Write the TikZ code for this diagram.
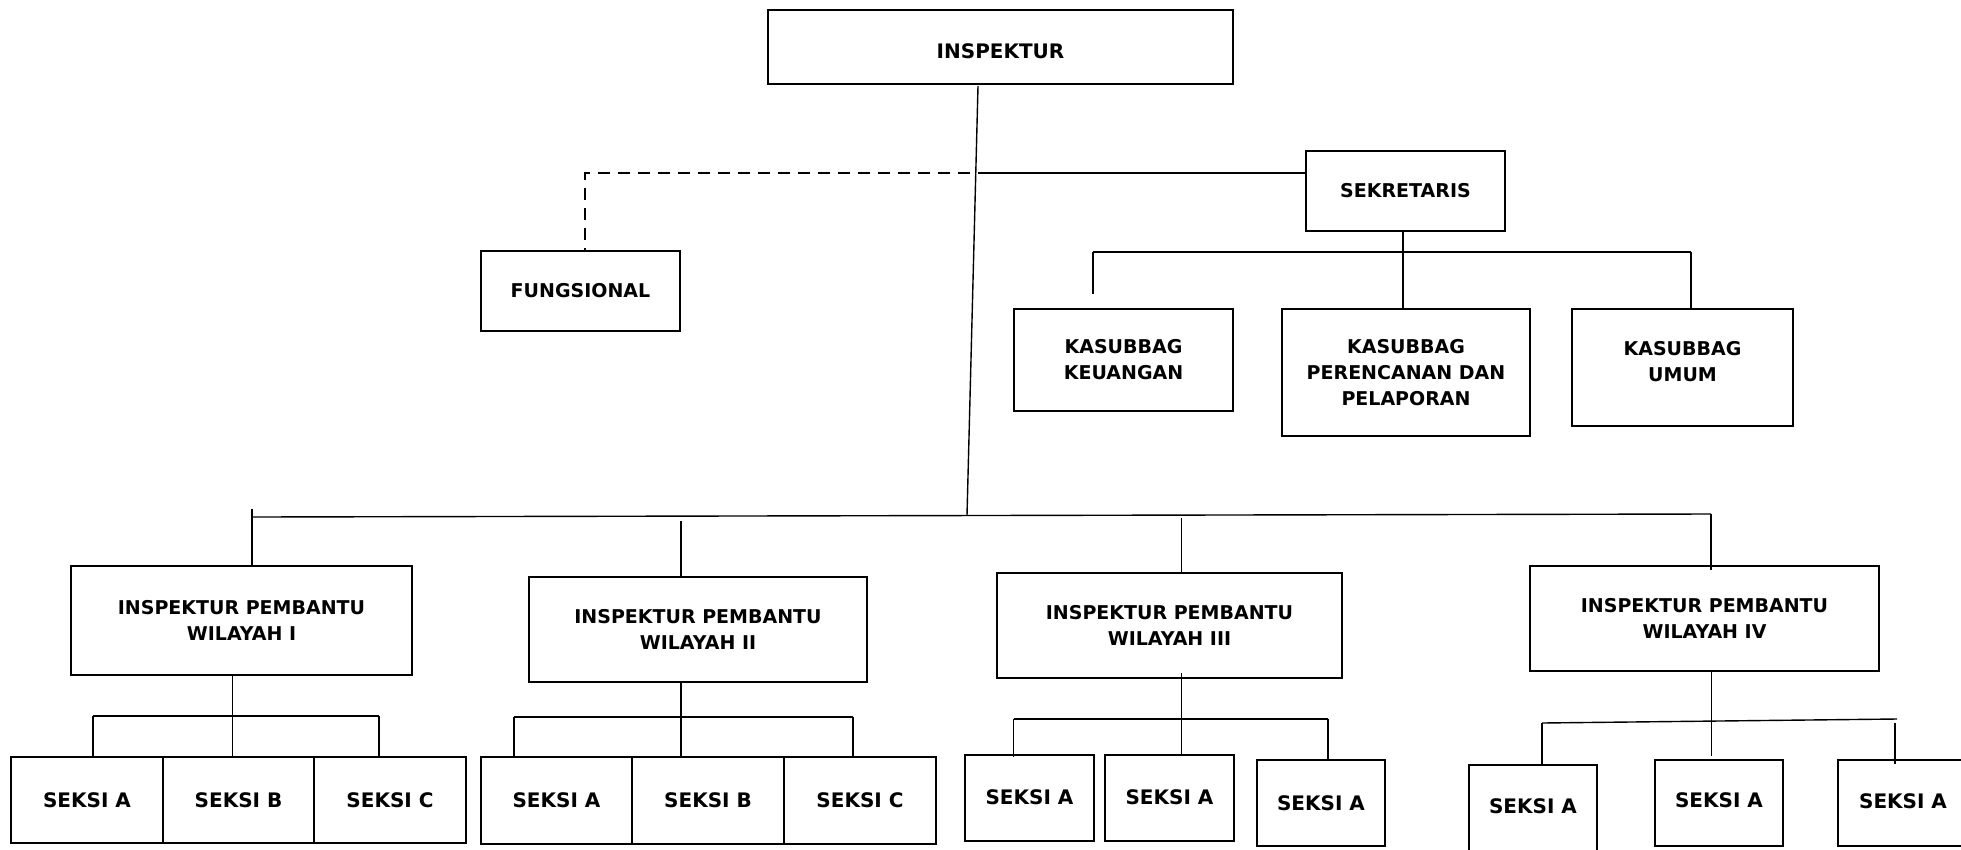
\documentclass[tikz,border=0pt]{standalone}
\usepackage{fontspec}
\setmainfont{DejaVu Sans}
\begin{document}
\begin{tikzpicture}[x=1pt,y=-1pt,
  box/.style={draw, line width=1.6pt, rectangle, inner sep=0pt, align=center,
    font=\bfseries\fontsize{19}{26}\selectfont},
  lbl/.style={inner sep=0pt, align=center, font=\bfseries\fontsize{20}{26}\selectfont},
  sbox/.style={box, font=\bfseries\fontsize{20}{26}\selectfont},
  ln/.style={line width=1.4pt},
  dsh/.style={line width=1.6pt, dash pattern=on 12pt off 8pt}]
\useasboundingbox (0,0) rectangle (1961,849);
\fill[white] (0,0) rectangle (1961,849);
\clip (0,0) rectangle (1961,849);

% top level
\node[box, minimum width=465pt, minimum height=74pt] (insp) at (1000.5,47) {};
\node[lbl] (inspt) at (1000.5,51) {INSPEKTUR};
\node[box, minimum width=199pt, minimum height=80pt] (sek) at (1405.5,191) {SEKRETARIS};
\node[box, minimum width=199pt, minimum height=80pt] (fung) at (580.5,291) {FUNGSIONAL};
\node[box, minimum width=219pt, minimum height=102pt] (keu) at (1123.5,360) {KASUBBAG\\KEUANGAN};
\node[box, minimum width=248pt, minimum height=127pt] (ren) at (1406,372.5) {KASUBBAG\\PERENCANAN DAN\\PELAPORAN};
\node[box, minimum width=221pt, minimum height=117pt] (umum) at (1682.5,367.5) {};
\node[lbl, font=\bfseries\fontsize{19}{26}\selectfont] (umumt) at (1682.5,362) {KASUBBAG\\UMUM};

% inspektur pembantu
\node[box, minimum width=341pt, minimum height=109pt] (ipw1) at (241.5,620.5) {INSPEKTUR PEMBANTU\\WILAYAH I};
\node[box, minimum width=338pt, minimum height=105pt] (ipw2) at (698,629.5) {INSPEKTUR PEMBANTU\\WILAYAH II};
\node[box, minimum width=345pt, minimum height=105pt] (ipw3) at (1169.5,625.5) {INSPEKTUR PEMBANTU\\WILAYAH III};
\node[box, minimum width=349pt, minimum height=105pt] (ipw4) at (1704.5,618.5) {INSPEKTUR PEMBANTU\\WILAYAH IV};

% seksi rows
\node[sbox, minimum width=152pt, minimum height=86pt] (s1a) at (87,800) {SEKSI A};
\node[sbox, minimum width=151pt, minimum height=86pt] (s1b) at (238.5,800) {SEKSI B};
\node[sbox, minimum width=152pt, minimum height=86pt] (s1c) at (390,800) {SEKSI C};

\node[sbox, minimum width=151pt, minimum height=87pt] (s2a) at (556.5,800.5) {SEKSI A};
\node[sbox, minimum width=152pt, minimum height=87pt] (s2b) at (708,800.5) {SEKSI B};
\node[sbox, minimum width=152pt, minimum height=87pt] (s2c) at (860,800.5) {SEKSI C};

\node[sbox, minimum width=129pt, minimum height=86pt] (s3a) at (1029.5,798) {};
\node[lbl] (s3at) at (1029.5,797) {SEKSI A};
\node[sbox, minimum width=129pt, minimum height=86pt] (s3b) at (1169.5,798) {};
\node[lbl] (s3bt) at (1169.5,797) {SEKSI A};
\node[sbox, minimum width=128pt, minimum height=86pt] (s3c) at (1321,803) {SEKSI A};

\node[sbox, minimum width=128pt, minimum height=110pt] (s4a) at (1533,820) {};
\node[lbl] (s4at) at (1533,806) {SEKSI A};
\node[sbox, minimum width=128pt, minimum height=86pt] (s4b) at (1719,803) {};
\node[lbl] (s4bt) at (1719,800) {SEKSI A};
\node[sbox, minimum width=130pt, minimum height=86pt] (s4c) at (1903,803) {};
\node[lbl] (s4ct) at (1903,801) {SEKSI A};

% junction coordinates
\coordinate (mtop) at (978,86);
\coordinate (mbot) at (967,515);
\coordinate (jsek) at (978,173);
\coordinate (jdash) at (970,173);
\coordinate (bl) at (252,517);
\coordinate (br) at (1711,514);
\coordinate (d1) at (252,509);
\coordinate (d2) at (681,521);
\coordinate (d3) at (1181.5,518);

% inspektur trunk
\draw[ln] (mtop) -- (mbot);
\draw[ln] (jsek) -- (jsek -| sek.west);
\draw[dsh] (jdash) -| ([xshift=4.5pt]fung.north);

% sekretaris branch
\coordinate (kb) at (1403,252);
\coordinate (kl) at (1093,252);
\coordinate (kr) at (1691,252);
\draw[ln] (sek.south -| kb) -- (kb |- ren.north);
\draw[ln] (kl) -- (kr);
\draw[ln] (kl) -- ++(0,42);
\draw[ln] (kr) -- (kr |- umum.north);

% main horizontal bar
\draw[ln] (bl) -- (br);
\draw[ln] (d1) -- (d1 |- ipw1.north);
\draw[ln] (d2) -- (d2 |- ipw2.north);
\draw[ln] (d3) -- (d3 |- ipw3.north);
\draw[ln] (br) -- ([yshift=-5pt]br |- ipw4.north);

% wilayah I
\coordinate (w1) at (232.5,716);
\coordinate (w1l) at (93,716);
\coordinate (w1r) at (379,716);
\draw[ln] (w1 |- ipw1.south) -- (w1 |- s1b.north);
\draw[ln] (w1l) -- (w1r);
\draw[ln] (w1l) -- (w1l |- s1a.north);
\draw[ln] (w1r) -- (w1r |- s1c.north);

% wilayah II
\coordinate (w2) at (681,717);
\coordinate (w2l) at (514,717);
\coordinate (w2r) at (853,717);
\draw[ln] (w2 |- ipw2.south) -- (w2 |- s2b.north);
\draw[ln] (w2l) -- (w2r);
\draw[ln] (w2l) -- (w2l |- s2a.north);
\draw[ln] (w2r) -- (w2r |- s2c.north);

% wilayah III
\coordinate (w3) at (1181.5,719);
\coordinate (w3l) at (1013.5,719);
\coordinate (w3r) at (1328,719);
\draw[ln] (1181.5,673) -- (w3 |- s3b.north);
\draw[ln] (w3l) -- (w3r);
\draw[ln] (w3l) -- ([yshift=-3pt]w3l |- s3a.north);
\draw[ln] (w3r) -- (w3r |- s3c.north);

% wilayah IV
\coordinate (w4) at (1711.5,721);
\coordinate (w4l) at (1542,723);
\coordinate (w4r) at (1897,719);
\coordinate (w4rd) at (1895,723);
\draw[ln] (w4 |- ipw4.south) -- (1711.5,756);
\draw[ln] (w4l) -- (w4r);
\draw[ln] (w4l) -- (w4l |- s4a.north);
\draw[ln] (w4rd) -- ([yshift=-5pt]w4rd |- s4c.north);
\end{tikzpicture}
\end{document}
